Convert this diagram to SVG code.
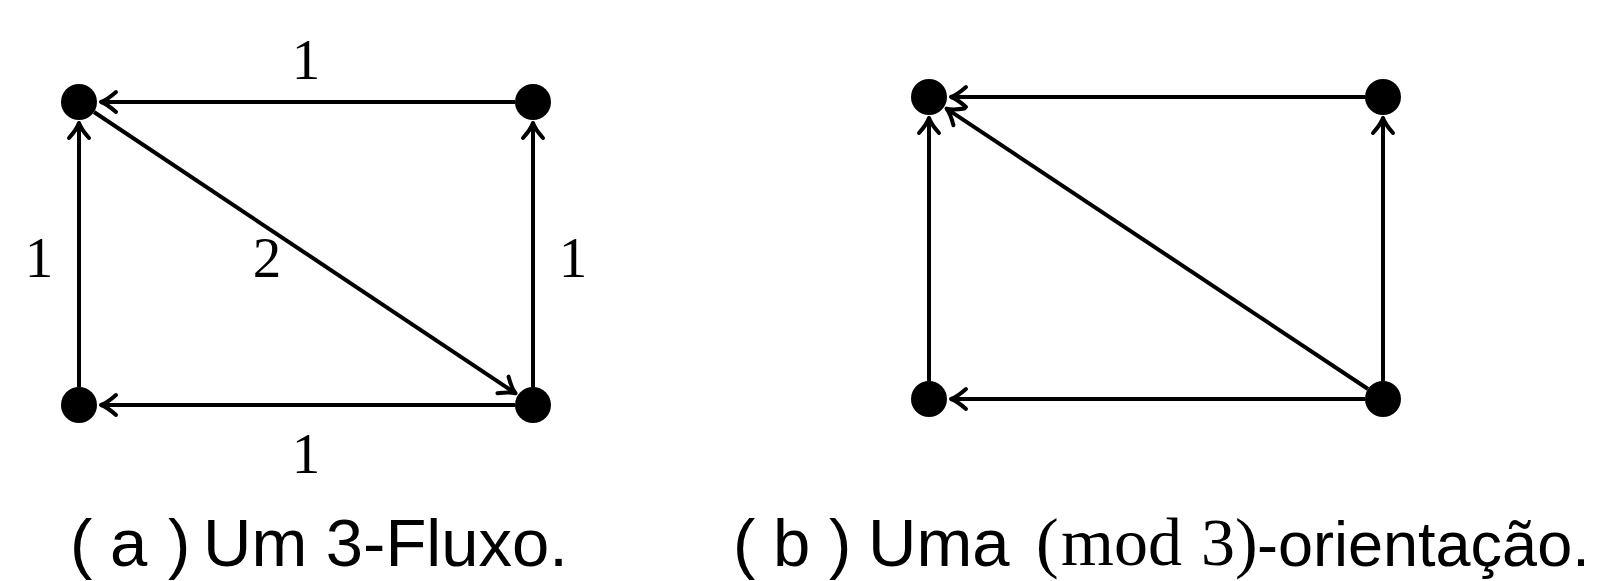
<svg xmlns="http://www.w3.org/2000/svg" width="1599" height="581" viewBox="0 0 1599 581">
  <style>
    .node { fill: #000; }
    .edge { stroke: #000; stroke-width: 4; fill: none; marker-end: url(#tip); }
    .wt { font-family: "Liberation Serif", "DejaVu Serif", serif; font-size: 57px; fill: #000; text-anchor: middle; }
    .cap { font-family: "Liberation Sans", Arial, sans-serif; font-size: 67px; fill: #000; }
    .cap-tail { font-size: 63px; }
    .math { font-family: "Liberation Serif", "DejaVu Serif", serif; font-size: 68px; fill: #000; }
  </style>
  <defs>
    <!-- open curved arrow tip, tip point at the path end -->
    <marker id="tip" markerUnits="userSpaceOnUse" markerWidth="34" markerHeight="34" viewBox="-17 -17 34 34" refX="0" refY="0" orient="auto" overflow="visible">
      <path d="M -15,-10 Q -6,-2 0,0 Q -6,2 -15,10" fill="none" stroke="#000" stroke-width="4" stroke-linecap="round" stroke-linejoin="round"/>
    </marker>
  </defs>

  <rect width="1599" height="581" fill="#fff"/>

  <!-- (a) 3-flow -->
  <g id="flow-edges">
    <line class="edge" x1="515" y1="102" x2="101" y2="102"/>
    <line class="edge" x1="79" y1="387" x2="79" y2="123"/>
    <line class="edge" x1="533" y1="387" x2="533" y2="123"/>
    <line class="edge" x1="515" y1="405" x2="101" y2="405"/>
    <line class="edge" x1="94" y1="112" x2="515.5" y2="393.3"/>
  </g>
  <g id="a-tl"><circle class="node" cx="79" cy="102" r="18"/></g>
  <g id="a-tr"><circle class="node" cx="533" cy="102" r="18"/></g>
  <g id="a-bl"><circle class="node" cx="79" cy="405" r="18"/></g>
  <g id="a-br"><circle class="node" cx="533" cy="405" r="18"/></g>
  <g id="flow-weights">
    <text class="wt" x="306" y="79">1</text>
    <text class="wt" x="39" y="277">1</text>
    <text class="wt" x="267" y="277">2</text>
    <text class="wt" x="573" y="277">1</text>
    <text class="wt" x="306" y="473">1</text>
  </g>

  <!-- (b) mod 3 orientation -->
  <g id="orient-edges">
    <line class="edge" x1="1365" y1="97" x2="951" y2="97"/>
    <line class="edge" x1="929" y1="381" x2="929" y2="118"/>
    <line class="edge" x1="1383" y1="381" x2="1383" y2="118"/>
    <line class="edge" x1="1365" y1="399" x2="951" y2="399"/>
    <line class="edge" x1="1368" y1="389" x2="946.5" y2="108.6"/>
  </g>
  <g id="b-tl"><circle class="node" cx="929" cy="97" r="18"/></g>
  <g id="b-tr"><circle class="node" cx="1383" cy="97" r="18"/></g>
  <g id="b-bl"><circle class="node" cx="929" cy="399" r="18"/></g>
  <g id="b-br"><circle class="node" cx="1383" cy="399" r="18"/></g>

  <!-- captions -->
  <g id="caption-a">
    <text class="cap" y="566"><tspan x="70">(</tspan><tspan x="110">a</tspan><tspan x="168">)</tspan><tspan x="203">Um 3-Fluxo.</tspan></text>
  </g>
  <g id="caption-b">
    <text class="cap" y="566"><tspan x="733">(</tspan><tspan x="773">b</tspan><tspan x="829">)</tspan><tspan x="868">Uma</tspan></text>
    <text class="math" y="565"><tspan x="1036">(</tspan><tspan x="1061">mod</tspan><tspan x="1201">3</tspan><tspan x="1235">)</tspan></text>
    <text class="cap cap-tail" y="566" x="1257">-orientação.</text>
  </g>
</svg>
